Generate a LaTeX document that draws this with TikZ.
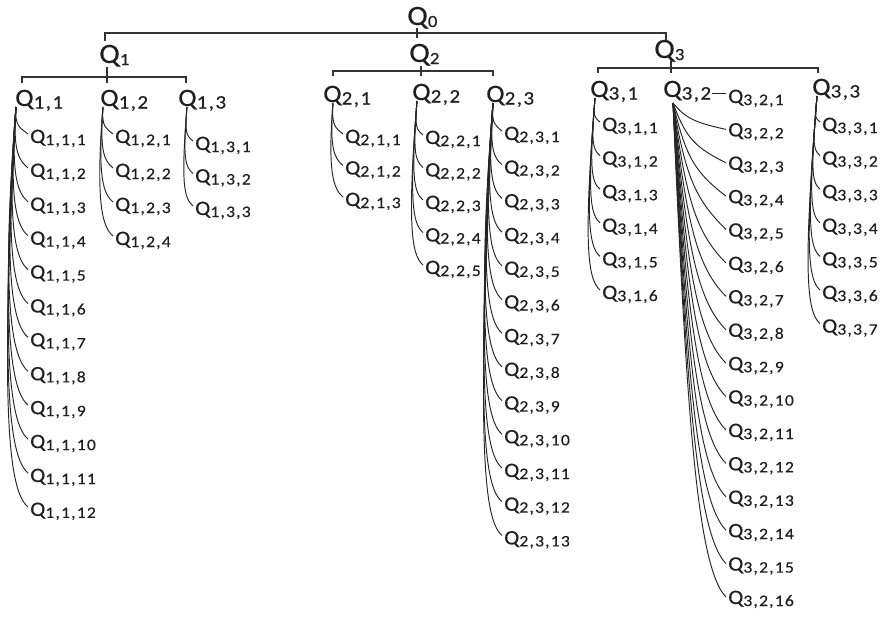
\documentclass[tikz,border=0pt]{standalone}
\usepackage{fontspec}
\setmainfont{Carlito}[FakeStretch=1.1,FakeBold=0.4]

% letter-spaced subscript strings
\newlength\lsk
\def\lspi#1#2{#1\ifx\relax#2\else\kern\lsk\expandafter\lspi\expandafter#2\fi}
\newcommand\lsp[1]{\edef\lsptmp{#1}\expandafter\lspi\lsptmp\relax}

% labels for the three levels of the tree
\newcommand\QA[1]{{\fontsize{28}{28}\selectfont Q}\raisebox{-2pt}{\fontsize{17}{17}\selectfont\setlength\lsk{1pt}\lsp{#1}}}
\newcommand\QB[1]{{\fontsize{25}{25}\selectfont Q}\raisebox{-2.5pt}{\fontsize{19}{19}\selectfont\setlength\lsk{1.5pt}\lsp{#1}}}
\newcommand\QC[1]{{\fontsize{20.5}{20.5}\selectfont Q}\raisebox{-2pt}{\fontsize{16}{16}\selectfont\setlength\lsk{1.2pt}\lsp{#1}}}

% a column of leaves hanging from one parent
% #1 parent, #2 count, #3 leaf x, #4 first baseline, #5 spacing,
% #6 subscript prefix, #7 parent baseline, #8 stem offset
\newcommand\leaves[8]{%
  \foreach \k in {1,...,#2}{%
    \pgfmathsetmacro\lfy{#4+#5*(\k-1)}%
    \node[lab] (#1-\k) at (#3,\lfy) {\QC{#6,\k}};%
    \pgfmathsetmacro\lfd{\lfy-9-#7-1}%
    \pgfmathsetmacro\lfa{min(0.06*\lfd,16)}%
    \pgfmathsetmacro\lfb{min(6+0.035*\lfd,20)}%
    \pgfmathsetmacro\lfc{min(5+0.03*\lfd,16)}%
    \draw[edge] ([xshift=#8pt,yshift=-1pt]#1.base west)
      .. controls +(-\lfa,{0.75*\lfd}) and +(-\lfb,-\lfc) ..
      ([xshift=-2pt,yshift=9pt]#1-\k.base west);%
  }}

\begin{document}
\begin{tikzpicture}[x=1pt,y=-1pt,
  lab/.style={anchor=base west,inner sep=0pt,text=black!88},
  wire/.style={draw=black!80,line width=1.4pt},
  edge/.style={draw=black!85,line width=0.95pt}]
\useasboundingbox (0,0) rectangle (880,619);

% root and first level
\node[lab] (q0) at (407,25) {\QA{0}};
\node[lab] (q1) at (99,63) {\QA{1}};
\node[lab] (q2) at (409,62) {\QA{2}};
\node[lab] (q3) at (654,58) {\QA{3}};

\draw[wire] ([xshift=10pt,yshift=-3pt]q0.base west) -- ++(0,5) -| ([xshift=6pt,yshift=22pt]q1.base west);
\draw[wire] ([xshift=10pt,yshift=-3pt]q0.base west) -- ([xshift=8pt,yshift=24pt]q2.base west);
\draw[wire] ([xshift=10pt,yshift=-3pt]q0.base west) -- ++(0,5) -| ([xshift=12pt,yshift=18pt]q3.base west);

% second level
\node[lab] (q11) at (15,106) {\QB{1,1}};
\node[lab] (q12) at (100,106) {\QB{1,2}};
\node[lab] (q13) at (178,106) {\QB{1,3}};
\node[lab] (q21) at (323,102) {\QB{2,1}};
\node[lab] (q22) at (412,100) {\QB{2,2}};
\node[lab] (q23) at (486,102) {\QB{2,3}};
\node[lab] (q31) at (590,97) {\QB{3,1}};
\node[lab] (q32) at (663,97) {\QB{3,2}};
\node[lab] (q33) at (812,95) {\QB{3,3}};

\foreach \c/\dx/\dy in {q11/7/23,q12/7/23,q13/8/23}
  \draw[wire] ([xshift=8pt,yshift=-4pt]q1.base west) -- ++(0,10) -| ([xshift=\dx pt,yshift=\dy pt]\c.base west);
\foreach \c/\dx/\dy in {q21/10/26,q22/9/24,q23/7/26}
  \draw[wire] ([xshift=12pt,yshift=-4pt]q2.base west) -- ++(0,5) -| ([xshift=\dx pt,yshift=\dy pt]\c.base west);
\foreach \c/\dx/\dy in {q31/8/24,q32/8/24,q33/6/22}
  \draw[wire] ([xshift=17pt,yshift=-2pt]q3.base west) -- ++(0,8) -| ([xshift=\dx pt,yshift=\dy pt]\c.base west);

% third level
\leaves{q11}{12}{30}{143}{33.9}{1,1}{106}{1}
\leaves{q12}{4}{115}{143}{34}{1,2}{106}{3}
\leaves{q13}{3}{195}{150}{32.5}{1,3}{106}{9}
\leaves{q21}{3}{345}{143}{31.5}{2,1}{102}{10}
\leaves{q22}{5}{425}{144}{32.5}{2,2}{100}{5}
\leaves{q23}{13}{504}{140}{33.7}{2,3}{102}{7}
\leaves{q31}{6}{602}{131}{33.6}{3,1}{97}{5}
\leaves{q33}{7}{822}{131}{33.6}{3,3}{95}{5}

% the wide fan under Q_{3,2}
\foreach \k in {1,...,16}{
  \pgfmathsetmacro\lfy{103+33.4*(\k-1)}
  \node[lab] (q32-\k) at (728,\lfy) {\QC{3,2,\k}};
}
\draw[edge] ([xshift=1pt,yshift=4pt]q32.base east) -- ([xshift=-2pt,yshift=10pt]q32-1.base west);
\foreach \k in {2,...,16}{
  \pgfmathsetmacro\lfd{33.4*(\k-1)-7}
  \pgfmathsetmacro\lfc{min(0.25*\lfd,30)}
  \draw[edge] ([xshift=10pt,yshift=-6pt]q32.base west)
    .. controls +(13,{0.6*\lfd}) and +(-30,-\lfc) ..
    ([xshift=-2pt,yshift=7pt]q32-\k.base west);
}
\end{tikzpicture}
\end{document}
